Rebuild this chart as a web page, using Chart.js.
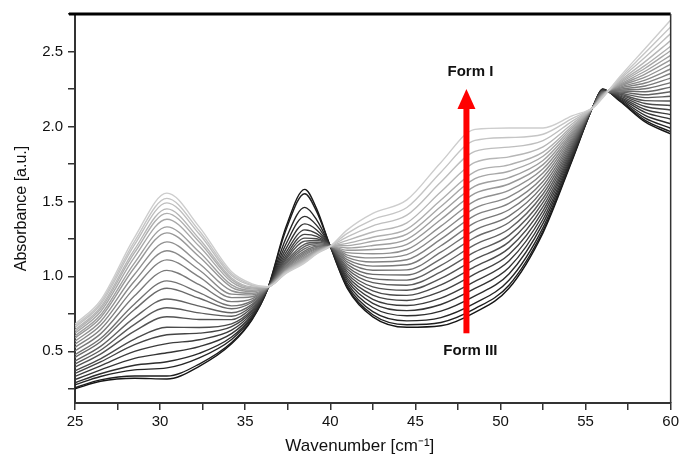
<!DOCTYPE html>
<html lang="en">
<head>
    <meta charset="UTF-8">
    <title>Absorbance spectra, Form III to Form I</title>
    <script src="https://cdn.jsdelivr.net/npm/chart.js"></script>
    <style>
        body {
            margin: 0;
            padding: 0;
            background: #fff;
        }
        #wrap {
            width: 682px;
            height: 457px;
        }
    </style>
</head>
<body>
    <div id="wrap"><canvas id="spectraChart"></canvas></div>

    <script>
        const wavenumber = [25, 26.5, 28.5, 30.4, 32.3, 34.2, 35.4, 36.3, 37.4, 38.5, 39.2, 40,
                            41, 42.5, 44.5, 46.5, 48.5, 50.5, 52.5, 54.2, 55.5, 56, 57, 58.5, 60];

        // One row per spectrum, first row = Form III (black), last row = Form I (light grey)
        const absorbance = [
            [0.25, 0.30, 0.32, 0.315, 0.40, 0.55, 0.71, 0.91, 1.33, 1.58, 1.45, 1.20, 0.92, 0.73, 0.66, 0.67, 0.76, 0.92, 1.29, 1.77, 2.15, 2.25, 2.17, 2.03, 1.95],
            [0.257, 0.309, 0.335, 0.335, 0.415, 0.558, 0.714, 0.91, 1.311, 1.551, 1.432, 1.20, 0.928, 0.744, 0.677, 0.692, 0.784, 0.941, 1.304, 1.776, 2.15, 2.249, 2.173, 2.04, 1.965],
            [0.276, 0.332, 0.376, 0.389, 0.456, 0.579, 0.724, 0.911, 1.254, 1.46, 1.377, 1.20, 0.94, 0.765, 0.703, 0.725, 0.821, 0.974, 1.325, 1.785, 2.149, 2.247, 2.178, 2.055, 1.988],
            [0.29, 0.35, 0.407, 0.43, 0.486, 0.595, 0.732, 0.912, 1.216, 1.40, 1.34, 1.20, 0.955, 0.792, 0.737, 0.768, 0.87, 1.016, 1.353, 1.797, 2.148, 2.245, 2.184, 2.074, 2.018],
            [0.311, 0.376, 0.453, 0.49, 0.531, 0.618, 0.744, 0.913, 1.185, 1.35, 1.309, 1.20, 0.971, 0.82, 0.771, 0.812, 0.919, 1.059, 1.381, 1.809, 2.147, 2.242, 2.191, 2.094, 2.049],
            [0.332, 0.403, 0.499, 0.551, 0.577, 0.641, 0.756, 0.914, 1.159, 1.31, 1.285, 1.20, 0.986, 0.847, 0.805, 0.855, 0.967, 1.102, 1.409, 1.821, 2.147, 2.24, 2.197, 2.113, 2.079],
            [0.352, 0.429, 0.544, 0.61, 0.621, 0.664, 0.767, 0.915, 1.14, 1.28, 1.266, 1.20, 1.002, 0.875, 0.839, 0.899, 1.016, 1.145, 1.437, 1.833, 2.146, 2.237, 2.204, 2.133, 2.11],
            [0.37, 0.45, 0.581, 0.66, 0.659, 0.683, 0.777, 0.916, 1.124, 1.255, 1.251, 1.20, 1.018, 0.903, 0.873, 0.943, 1.065, 1.188, 1.465, 1.845, 2.145, 2.235, 2.21, 2.153, 2.14],
            [0.394, 0.481, 0.635, 0.73, 0.712, 0.711, 0.79, 0.917, 1.112, 1.235, 1.239, 1.20, 1.033, 0.93, 0.907, 0.986, 1.114, 1.23, 1.493, 1.857, 2.144, 2.233, 2.216, 2.172, 2.17],
            [0.415, 0.507, 0.68, 0.79, 0.756, 0.734, 0.802, 0.918, 1.099, 1.215, 1.227, 1.20, 1.049, 0.958, 0.941, 1.03, 1.163, 1.273, 1.521, 1.869, 2.143, 2.23, 2.223, 2.192, 2.201],
            [0.435, 0.533, 0.725, 0.849, 0.801, 0.757, 0.813, 0.919, 1.089, 1.20, 1.217, 1.20, 1.064, 0.985, 0.975, 1.073, 1.211, 1.316, 1.549, 1.881, 2.143, 2.228, 2.229, 2.211, 2.231],
            [0.46, 0.564, 0.779, 0.92, 0.854, 0.784, 0.827, 0.92, 1.08, 1.185, 1.208, 1.20, 1.08, 1.013, 1.009, 1.117, 1.26, 1.359, 1.577, 1.893, 2.142, 2.225, 2.236, 2.231, 2.262],
            [0.477, 0.585, 0.816, 0.97, 0.891, 0.803, 0.837, 0.921, 1.071, 1.17, 1.199, 1.20, 1.096, 1.041, 1.043, 1.161, 1.309, 1.402, 1.605, 1.905, 2.141, 2.223, 2.242, 2.251, 2.292],
            [0.502, 0.616, 0.87, 1.04, 0.944, 0.831, 0.85, 0.922, 1.064, 1.16, 1.193, 1.20, 1.111, 1.068, 1.077, 1.204, 1.358, 1.444, 1.633, 1.917, 2.14, 2.221, 2.248, 2.27, 2.322],
            [0.526, 0.646, 0.923, 1.11, 0.996, 0.858, 0.864, 0.923, 1.058, 1.15, 1.187, 1.20, 1.127, 1.096, 1.111, 1.248, 1.407, 1.487, 1.661, 1.929, 2.139, 2.218, 2.255, 2.29, 2.353],
            [0.547, 0.673, 0.969, 1.171, 1.042, 0.881, 0.876, 0.924, 1.052, 1.14, 1.181, 1.20, 1.142, 1.123, 1.145, 1.291, 1.455, 1.53, 1.689, 1.941, 2.139, 2.216, 2.261, 2.309, 2.383],
            [0.567, 0.699, 1.014, 1.23, 1.086, 0.904, 0.887, 0.925, 1.045, 1.13, 1.175, 1.20, 1.158, 1.151, 1.179, 1.335, 1.504, 1.573, 1.717, 1.953, 2.138, 2.213, 2.268, 2.329, 2.414],
            [0.588, 0.724, 1.059, 1.29, 1.131, 0.927, 0.899, 0.926, 1.042, 1.125, 1.171, 1.20, 1.174, 1.179, 1.213, 1.379, 1.553, 1.616, 1.745, 1.965, 2.137, 2.211, 2.274, 2.349, 2.444],
            [0.602, 0.742, 1.09, 1.33, 1.162, 0.943, 0.907, 0.926, 1.039, 1.12, 1.168, 1.20, 1.189, 1.206, 1.247, 1.422, 1.602, 1.658, 1.773, 1.977, 2.136, 2.209, 2.28, 2.368, 2.474],
            [0.62, 0.764, 1.128, 1.381, 1.2, 0.963, 0.916, 0.927, 1.036, 1.115, 1.165, 1.20, 1.205, 1.234, 1.281, 1.466, 1.651, 1.701, 1.801, 1.989, 2.135, 2.206, 2.287, 2.388, 2.505],
            [0.633, 0.781, 1.158, 1.42, 1.229, 0.978, 0.924, 0.928, 1.033, 1.11, 1.162, 1.20, 1.22, 1.261, 1.315, 1.509, 1.699, 1.744, 1.829, 2.001, 2.135, 2.204, 2.293, 2.407, 2.535],
            [0.643, 0.794, 1.18, 1.45, 1.251, 0.989, 0.93, 0.928, 1.03, 1.105, 1.159, 1.20, 1.24, 1.296, 1.357, 1.564, 1.76, 1.797, 1.864, 2.016, 2.134, 2.201, 2.301, 2.432, 2.573],
            [0.658, 0.812, 1.211, 1.49, 1.282, 1.005, 0.938, 0.929, 1.026, 1.10, 1.156, 1.20, 1.263, 1.337, 1.408, 1.629, 1.834, 1.862, 1.906, 2.034, 2.132, 2.197, 2.311, 2.461, 2.619],
            [0.668, 0.825, 1.234, 1.52, 1.304, 1.017, 0.943, 0.929, 1.023, 1.095, 1.153, 1.20, 1.287, 1.379, 1.459, 1.695, 1.907, 1.926, 1.948, 2.052, 2.131, 2.194, 2.32, 2.491, 2.664],
            [0.68, 0.84, 1.26, 1.555, 1.33, 1.03, 0.95, 0.93, 1.02, 1.09, 1.15, 1.20, 1.31, 1.42, 1.51, 1.76, 1.98, 1.99, 1.99, 2.07, 2.13, 2.19, 2.33, 2.52, 2.71]
        ];

        // Arrow annotation (data units)
        const arrowX = 48;
        const arrowFrom = 0.62;
        const arrowTo = 2.25;
        const topLabel = 'Form I';
        const bottomLabel = 'Form III';
        const xTitle = 'Wavenumber [cm\u207B\u00B9]';
        const yTitle = 'Absorbance [a.u.]';

        const FONT = "'Liberation Sans', Arial, Helvetica, sans-serif";

        // grey level per spectrum: dark -> light
        const greyOf = (k, n) => {
            const g = Math.round(22 + 183 * k / (n - 1));
            return `rgb(${g},${g},${g})`;
        };

        const datasets = absorbance.map((row, k) => ({
            label: 'spectrum ' + (k + 1),
            data: wavenumber.map((x, i) => ({ x: x, y: row[i] })),
            borderColor: greyOf(k, absorbance.length),
            borderWidth: 1.4,
            pointRadius: 0,
            fill: false,
            cubicInterpolationMode: 'monotone'
        })).reverse(); // light ones first -> drawn on top

        // frame, arrow, labels and x title
        const decorations = {
            id: 'decorations',
            afterDatasetsDraw(chart) {
                const { ctx, chartArea, scales } = chart;
                const xs = scales.x, ys = scales.y;
                ctx.save();

                // thick top line and thin right line
                ctx.strokeStyle = '#000';
                ctx.lineWidth = 3;
                ctx.beginPath();
                ctx.moveTo(chartArea.left - 6, chartArea.top);
                ctx.lineTo(chartArea.right, chartArea.top);
                ctx.stroke();
                ctx.strokeStyle = '#333';
                ctx.lineWidth = 1.5;
                ctx.beginPath();
                ctx.moveTo(chartArea.right, chartArea.top);
                ctx.lineTo(chartArea.right, chartArea.bottom);
                ctx.stroke();

                // red arrow
                const px = xs.getPixelForValue(arrowX);
                const y0 = ys.getPixelForValue(arrowFrom);
                const y1 = ys.getPixelForValue(arrowTo);
                const headLen = 20, headHalf = 9;
                ctx.fillStyle = '#ff0000';
                ctx.fillRect(px - 3, y1 + headLen - 1, 6, y0 - (y1 + headLen - 1));
                ctx.beginPath();
                ctx.moveTo(px, y1);
                ctx.lineTo(px + headHalf, y1 + headLen);
                ctx.lineTo(px - headHalf, y1 + headLen);
                ctx.closePath();
                ctx.fill();

                // labels
                ctx.fillStyle = '#111';
                ctx.font = 'bold 15px ' + FONT;
                ctx.textAlign = 'center';
                ctx.textBaseline = 'middle';
                ctx.fillText(topLabel, px + 4, y1 - 17);
                ctx.fillText(bottomLabel, px + 4, y0 + 18);

                // x axis title, sits a little left of centre in the original
                ctx.font = '17px ' + FONT;
                ctx.fillText(xTitle, (chartArea.left + chartArea.right) / 2 - 13, 446);
                ctx.restore();
            }
        };

        new Chart(document.getElementById('spectraChart'), {
            type: 'line',
            data: { datasets: datasets },
            options: {
                responsive: true,
                maintainAspectRatio: false,
                animation: false,
                layout: { padding: { top: 13, right: 10, left: 0, bottom: 0 } },
                plugins: {
                    legend: { display: false },
                    tooltip: { enabled: false }
                },
                scales: {
                    x: {
                        type: 'linear',
                        min: 25,
                        max: 60,
                        afterFit: s => { s.height = 54; },
                        ticks: {
                            stepSize: 2.5,
                            autoSkip: false,
                            maxRotation: 0,
                            padding: 3,
                            color: '#111',
                            font: { family: FONT, size: 15 },
                            callback: v => (Math.abs(v % 5) < 1e-6 ? String(v) : '')
                        },
                        grid: {
                            drawOnChartArea: false,
                            drawTicks: true,
                            tickLength: 7,
                            color: '#333',
                            lineWidth: 1.5
                        },
                        border: { display: true, color: '#333', width: 2 },
                        title: { display: false }
                    },
                    y: {
                        min: 0.155,
                        max: 2.75,
                        afterFit: s => { s.width = 75; },
                        ticks: {
                            stepSize: 0.25,
                            includeBounds: false,
                            padding: 5,
                            color: '#111',
                            font: { family: FONT, size: 15 },
                            callback: v => (Math.abs(v * 2 - Math.round(v * 2)) < 1e-6 ? v.toFixed(1) : '')
                        },
                        grid: {
                            drawOnChartArea: false,
                            drawTicks: true,
                            tickLength: 7,
                            color: '#333',
                            lineWidth: 1.5
                        },
                        border: { display: true, color: '#333', width: 2 },
                        title: {
                            display: true,
                            text: yTitle,
                            color: '#111',
                            font: { family: FONT, size: 16 },
                            padding: { top: 12, bottom: 0 }
                        }
                    }
                }
            },
            plugins: [decorations]
        });
    </script>
</body>
</html>
